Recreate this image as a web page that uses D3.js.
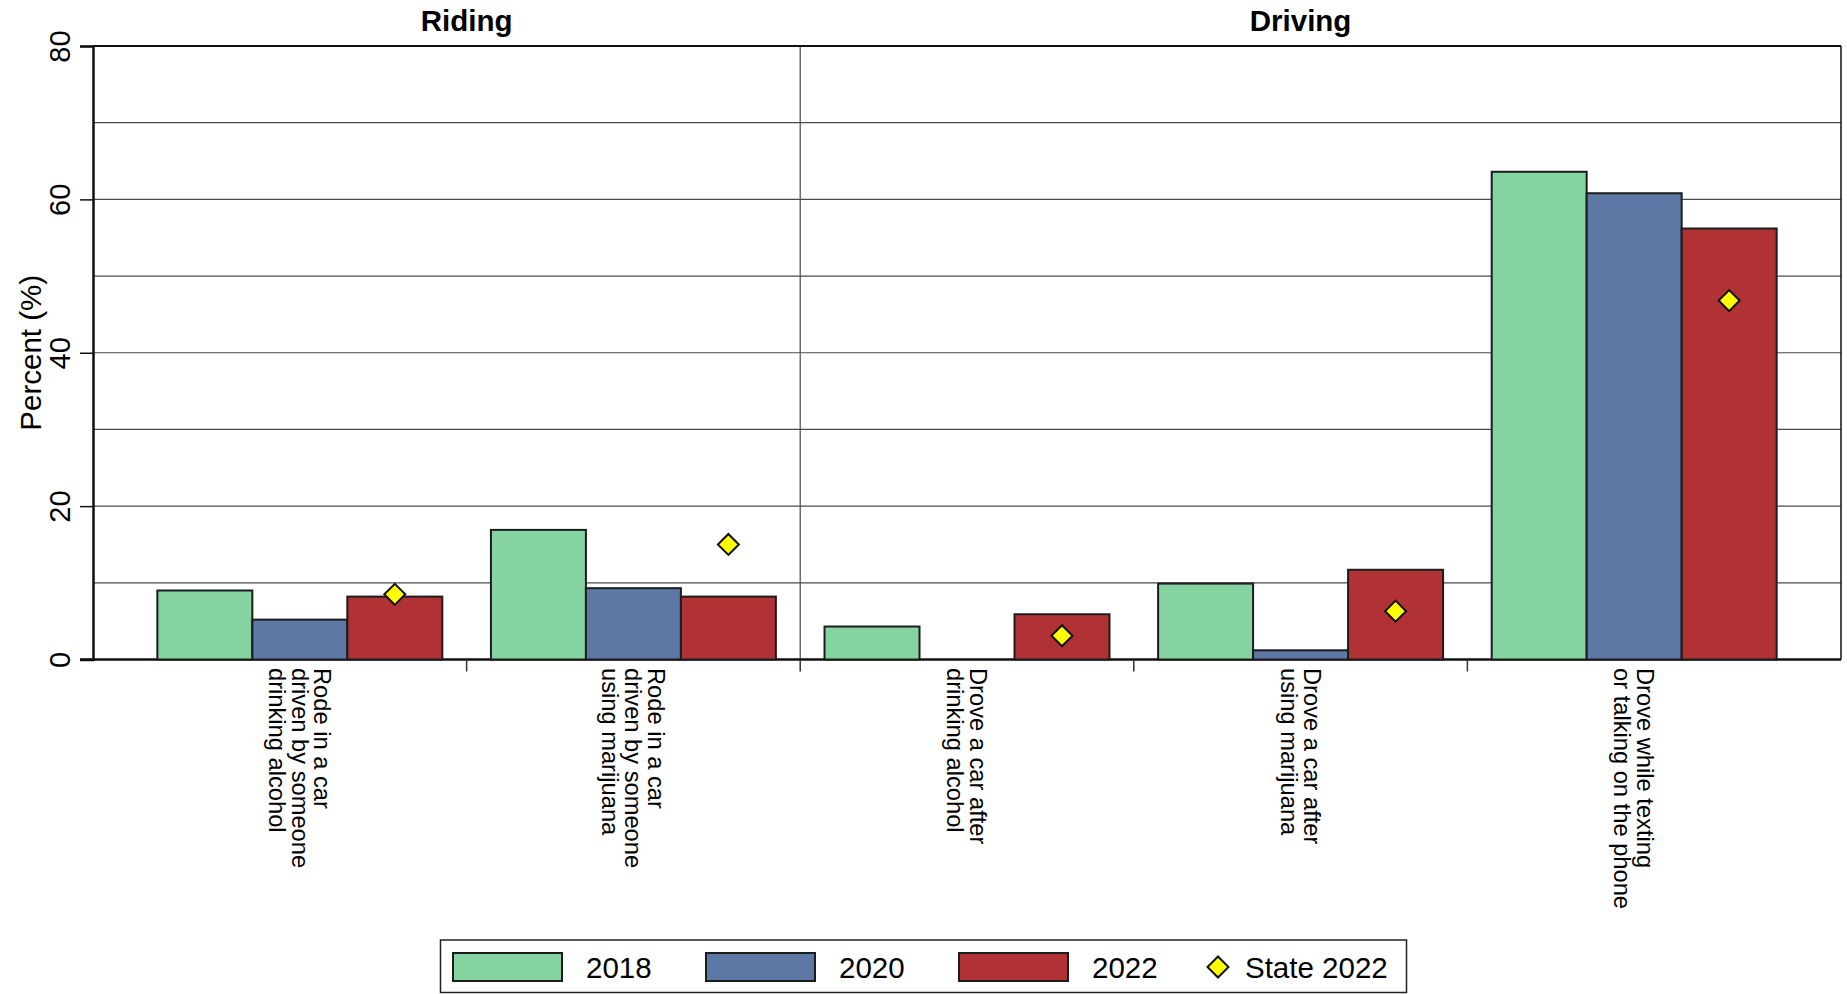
<!DOCTYPE html>
<html>
<head>
<meta charset="utf-8">
<script src="https://cdn.jsdelivr.net/npm/d3@7"></script>
<style>
  html, body { margin: 0; padding: 0; background: #fff; }
  svg { display: block; font-family: "Liberation Sans", Arial, sans-serif; }
</style>
</head>
<body>
<svg id="chart" width="1847" height="994"></svg>
<script>
// ---- data ----
const categories = [
  "Rode in a car\ndriven by someone\ndrinking alcohol",
  "Rode in a car\ndriven by someone\nusing marijuana",
  "Drove a car after\ndrinking alcohol",
  "Drove a car after\nusing marijuana",
  "Drove while texting\nor talking on the phone"
];
const seriesNames = ["2018", "2020", "2022"];
const values2018 = [9.0, 16.9, 4.3, 9.9, 63.6];
const values2020 = [5.2, 9.3, 0.0, 1.2, 60.8];
const values2022 = [8.2, 8.2, 5.9, 11.7, 56.2];
const state2022 = [8.5, 15.0, 3.1, 6.3, 46.8];
const stateName = "State 2022";
const panels = [
  { name: "Riding", cats: [0, 1] },
  { name: "Driving", cats: [2, 3, 4] }
];
const yTicks = [0, 20, 40, 60, 80];
const yGrid = [10, 20, 30, 40, 50, 60, 70];
const yTitle = "Percent (%)";
const colors = ["#84d3a1", "#5e78a6", "#b03234"];

// ---- layout ----
const svg = d3.select("#chart");
const L = 93, R = 1841, T = 46, B = 659.5;
const y = d3.scaleLinear().domain([0, 80]).range([B, T]);
const x = d3.scaleBand().domain(d3.range(categories.length)).range([L, R])
  .paddingInner(0).paddingOuter(0.12);
const xs = d3.scaleBand().domain(d3.range(seriesNames.length)).range([0, x.bandwidth()])
  .paddingInner(0).paddingOuter(0.256);
const allSeries = [values2018, values2020, values2022];

// gridlines
svg.append("g").selectAll("line").data(yGrid).join("line")
  .attr("x1", L).attr("x2", R)
  .attr("y1", d => y(d)).attr("y2", d => y(d))
  .attr("stroke", "#4a4a4a").attr("stroke-width", 1.2);

// panel divider
const divX = x(panels[1].cats[0]);
svg.append("line").attr("x1", divX).attr("x2", divX).attr("y1", T).attr("y2", B)
  .attr("stroke", "#4a4a4a").attr("stroke-width", 1.2);

// frame top/right
svg.append("line").attr("x1", L).attr("x2", R).attr("y1", T).attr("y2", T)
  .attr("stroke", "#111").attr("stroke-width", 2);
svg.append("line").attr("x1", R).attr("x2", R).attr("y1", T).attr("y2", B)
  .attr("stroke", "#111").attr("stroke-width", 1.5);

// x axis baseline
svg.append("line").attr("x1", L - 13).attr("x2", R).attr("y1", B).attr("y2", B)
  .attr("stroke", "#111").attr("stroke-width", 2.5);

// bars
const barData = [];
allSeries.forEach((arr, s) => arr.forEach((v, c) => barData.push({ s, c, v })));
svg.append("g").selectAll("rect").data(barData).join("rect")
  .attr("x", d => x(d.c) + xs(d.s))
  .attr("width", xs.bandwidth())
  .attr("y", d => y(d.v))
  .attr("height", d => y(0) - y(d.v))
  .attr("fill", d => colors[d.s])
  .attr("stroke", "#1c1c1c").attr("stroke-width", 2);

// state diamonds
const diamond = d3.symbol().type(d3.symbolSquare).size(220);
svg.append("g").selectAll("path").data(state2022).join("path")
  .attr("d", diamond)
  .attr("transform", (d, i) => `translate(${x(i) + xs(2) + xs.bandwidth() / 2},${y(d)}) rotate(45)`)
  .attr("fill", "#ffff00").attr("stroke", "#111").attr("stroke-width", 2);

// y axis
const yAxis = svg.append("g").attr("transform", `translate(${L},0)`)
  .call(d3.axisLeft(y).tickValues(yTicks).tickSize(13).tickFormat(d3.format("d")));
yAxis.select(".domain").attr("stroke", "#111").attr("stroke-width", 2.5);
yAxis.selectAll(".tick line").attr("stroke", "#111").attr("stroke-width", 1.5);
yAxis.selectAll(".tick text")
  .attr("font-size", 29).attr("fill", "#000")
  .attr("x", null).attr("dy", null)
  .attr("text-anchor", "middle")
  .attr("transform", "translate(-23,0) rotate(-90)");

// x boundary ticks
const boundaries = d3.range(1, categories.length).map(i => x(i));
svg.append("g").selectAll("line").data(boundaries).join("line")
  .attr("x1", d => d).attr("x2", d => d).attr("y1", B).attr("y2", B + 12)
  .attr("stroke", "#333").attr("stroke-width", 1.5);

// category labels (rotated 90)
const lineStep = 22.8;
const catG = svg.append("g").selectAll("text").data(categories).join("text")
  .attr("transform", (d, i) => `translate(${x(i) + x.bandwidth() / 2},668) rotate(90)`)
  .attr("font-size", 23.7).attr("fill", "#000").attr("text-anchor", "start");
catG.each(function (d) {
  const lines = d.split("\n");
  const n = lines.length;
  d3.select(this).selectAll("tspan").data(lines).join("tspan")
    .attr("x", 0)
    .attr("y", (l, k) => (k - (n - 1) / 2) * lineStep)
    .attr("dy", "0.35em")
    .text(l => l);
});

// y title
svg.append("text")
  .attr("transform", `translate(41,${(T + B) / 2}) rotate(-90)`)
  .attr("text-anchor", "middle").attr("font-size", 29.5).attr("fill", "#000")
  .text(yTitle);

// panel titles
svg.append("g").selectAll("text").data(panels).join("text")
  .attr("x", p => d3.mean(p.cats, c => x(c) + x.bandwidth() / 2))
  .attr("y", 31)
  .attr("text-anchor", "middle").attr("font-weight", "bold").attr("font-size", 29.5)
  .attr("fill", "#000")
  .text(p => p.name);

// legend
const lg = svg.append("g");
lg.append("rect").attr("x", 440.5).attr("y", 940).attr("width", 966).attr("height", 52.5)
  .attr("fill", "#fff").attr("stroke", "#222").attr("stroke-width", 1.5);
const itemStep = 253;
seriesNames.forEach((name, i) => {
  const sx = 453 + i * itemStep;
  lg.append("rect").attr("x", sx).attr("y", 953).attr("width", 109).attr("height", 28)
    .attr("fill", colors[i]).attr("stroke", "#1c1c1c").attr("stroke-width", 2);
  lg.append("text").attr("x", sx + 133).attr("y", 978).attr("font-size", 29.5)
    .attr("fill", "#000").text(name);
});
const dx = 453 + 3 * itemStep + 6;
lg.append("path").attr("d", diamond)
  .attr("transform", `translate(${dx},967) rotate(45)`)
  .attr("fill", "#ffff00").attr("stroke", "#111").attr("stroke-width", 2);
lg.append("text").attr("x", dx + 27).attr("y", 978).attr("font-size", 29.5)
  .attr("fill", "#000").text(stateName);
</script>
</body>
</html>
